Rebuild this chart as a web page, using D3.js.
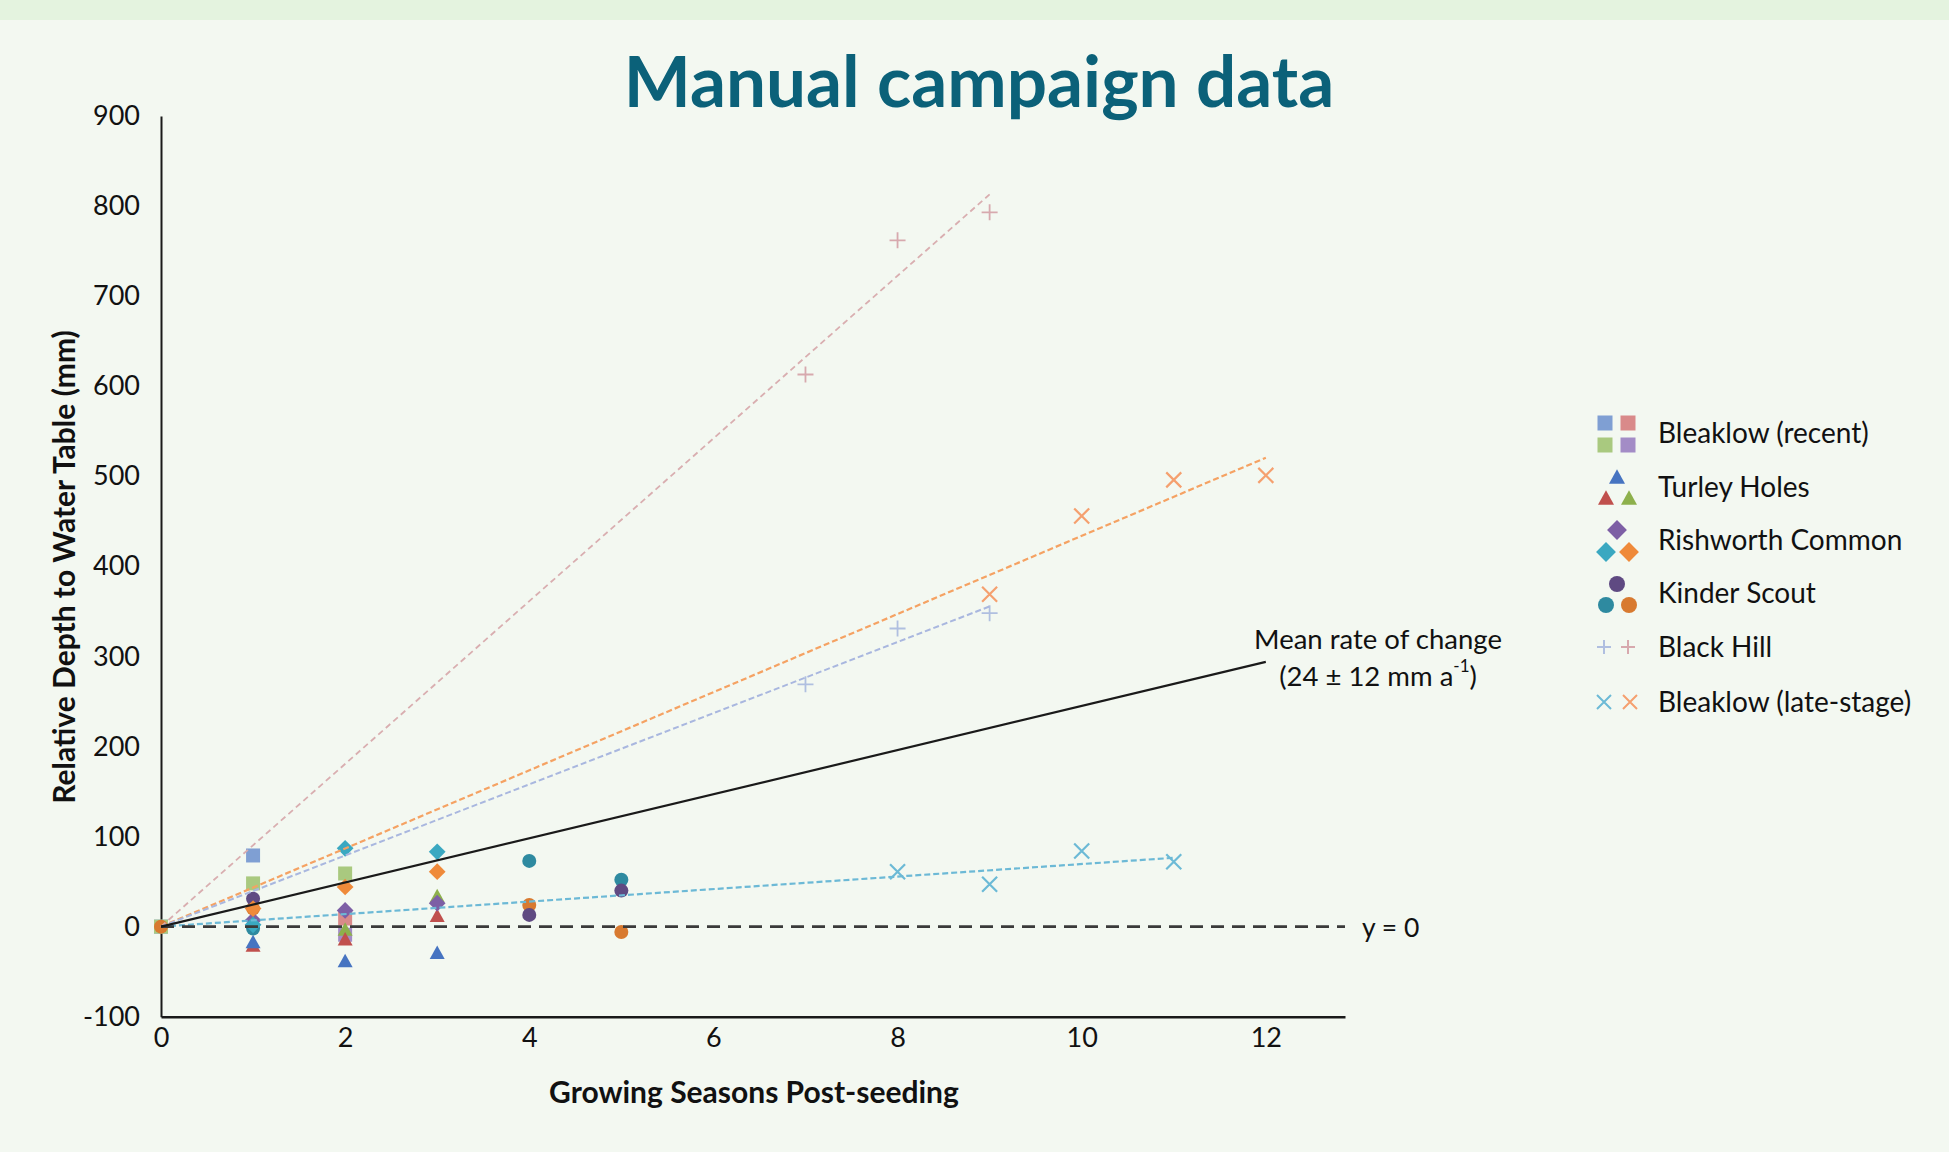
<!DOCTYPE html>
<html>
<head>
<meta charset="utf-8">
<script src="https://cdn.jsdelivr.net/npm/d3@7"></script>
<style>
  html, body { margin: 0; padding: 0; background: #f3f8f1; }
  svg { display: block; }
  text { font-family: Lato, "Open Sans", sans-serif; fill: #111; }
</style>
</head>
<body>
<svg id="chart" width="1949" height="1152"></svg>
<script>
// ---------------- DATA ----------------
const xTicks = [0, 2, 4, 6, 8, 10, 12];
const yTicks = [-100, 0, 100, 200, 300, 400, 500, 600, 700, 800, 900];

// Bleaklow (recent) – squares
const blRecentBlue   = [[0, 0], [1, 79]];
const blRecentPink   = [[2, 9]];
const blRecentGreen  = [[0, 0], [1, 48], [2, 59]];
const blRecentPurple = [[2, -9]];

// Turley Holes – triangles
const turleyBlue  = [[1, -18], [2, -39], [3, -30]];
const turleyRed   = [[1, -22], [2, -15], [3, 11]];
const turleyGreen = [[2, -4], [3, 33]];

// Rishworth Common – diamonds
const rishPurple = [[1, 7], [2, 18], [3, 26]];
const rishTeal   = [[1, 2], [2, 87], [3, 83]];
const rishOrange = [[1, 20], [2, 44], [3, 61]];

// Kinder Scout – circles
const kinderPurple = [[1, 31], [4, 13], [5, 40]];
const kinderTeal   = [[1, -2], [4, 73], [5, 52]];
const kinderOrange = [[0, 0], [1, 20], [4, 24], [5, -6]];

// Black Hill – plus
const blackHillBlue = [[7, 269], [8, 331], [9, 348]];
const blackHillPink = [[7, 613], [8, 762], [9, 793]];

// Bleaklow (late-stage) – crosses
const blLateBlue   = [[8, 61], [9, 47], [10, 84], [11, 72]];
const blLateOrange = [[9, 369], [10, 456], [11, 496], [12, 501]];

const meanRate = 24.5;       // mm per season (mean line)
const meanRateEnd = 12;
const zeroLineEnd = 12.86;

// ---------------- SETUP ----------------
const svg = d3.select("#chart");
const x = d3.scaleLinear().domain([0, 12.86]).range([161, 1345]);
const y = d3.scaleLinear().domain([-100, 900]).range([1016.7, 116]);

// background + top band
svg.append("rect").attr("x", 0).attr("y", 0).attr("width", 1949).attr("height", 1152).attr("fill", "#f3f8f1");
svg.append("rect").attr("x", 0).attr("y", 0).attr("width", 1949).attr("height", 20).attr("fill", "#e4f3df");

// title
svg.append("text").attr("x", 979).attr("y", 107).attr("text-anchor", "middle")
  .style("font-weight", "700").style("font-size", "71px").style("fill", "#0b6179")
  .text("Manual campaign data");

// ---------------- SYMBOLS ----------------
const shapePath = {
  square: s => `M${-s/2},${-s/2}h${s}v${s}h${-s}Z`,
  triangle: s => { const h = s * 0.9; return `M0,${-h*0.6}L${s/2},${h*0.4}L${-s/2},${h*0.4}Z`; },
  diamond: s => { const r = s * 0.62; return `M0,${-r}L${r},0L0,${r}L${-r},0Z`; },
  circle: s => { const r = s/2; return `M${r},0A${r},${r} 0 1,1 ${-r},0A${r},${r} 0 1,1 ${r},0Z`; },
  plus: s => `M${-s/2},0H${s/2}M0,${-s/2}V${s/2}`,
  cross: s => `M${-s/2},${-s/2}L${s/2},${s/2}M${-s/2},${s/2}L${s/2},${-s/2}`
};
const strokeShapes = new Set(["plus", "cross"]);

const seriesTable = [
  { data: blRecentBlue,   shape: "square",   color: "#7f9fd3", size: 14 },
  { data: blRecentPink,   shape: "square",   color: "#d98a8a", size: 14 },
  { data: blRecentGreen,  shape: "square",   color: "#a9c97f", size: 14 },
  { data: blRecentPurple, shape: "square",   color: "#a38cc6", size: 14 },
  { data: turleyGreen,    shape: "triangle", color: "#8db04c", size: 15 },
  { data: turleyRed,      shape: "triangle", color: "#c0504d", size: 15 },
  { data: turleyBlue,     shape: "triangle", color: "#4674c1", size: 15 },
  { data: kinderOrange,   shape: "circle",   color: "#d87a30", size: 14 },
  { data: kinderTeal,     shape: "circle",   color: "#2e8aa0", size: 14 },
  { data: kinderPurple,   shape: "circle",   color: "#5f4a82", size: 14 },
  { data: rishPurple,     shape: "diamond",  color: "#7d5fa5", size: 13.5 },
  { data: rishOrange,     shape: "diamond",  color: "#ef8a3a", size: 13.5 },
  { data: rishTeal,       shape: "diamond",  color: "#3aa8c1", size: 13.5 },
  { data: blackHillBlue,  shape: "plus",     color: "#b0bfe0", size: 16 },
  { data: blackHillPink,  shape: "plus",     color: "#d7a9ae", size: 16 },
  { data: blLateBlue,     shape: "cross",    color: "#6cbad6", size: 15 },
  { data: blLateOrange,   shape: "cross",    color: "#f5a06f", size: 15 }
];

// trend lines (least squares through origin from the series data)
const trendTable = [
  { data: blackHillPink, color: "#d9aeb0", width: 1.8, dash: "6,4" },
  { data: blLateOrange,  color: "#f5a263", width: 2.2, dash: "6,3" },
  { data: blackHillBlue, color: "#a9b7df", width: 2.0, dash: "6,3" },
  { data: blLateBlue,    color: "#6cb9d6", width: 2.2, dash: "6,3" }
];

// ---------------- AXES ----------------
const yAxis = svg.append("g").attr("transform", `translate(${x(0)},0)`)
  .call(d3.axisLeft(y).tickValues(yTicks).tickSize(0).tickPadding(21).tickFormat(d => String(d)));
yAxis.select(".domain").attr("stroke", "#1a1a1a").attr("stroke-width", 2);
yAxis.selectAll("text").style("font-size", "27px").style("font-family", "Lato").attr("fill", "#111");

const xAxis = svg.append("g").attr("transform", `translate(0,${y(-100)})`)
  .call(d3.axisBottom(x).tickValues(xTicks).tickSize(0).tickSizeOuter(0).tickPadding(11).tickFormat(d => String(d)));
xAxis.select(".domain").attr("stroke", "#1a1a1a").attr("stroke-width", 2.5);
xAxis.selectAll("text").style("font-size", "27px").style("font-family", "Lato").attr("fill", "#111");

// axis titles
svg.append("text").attr("transform", "translate(63,567) rotate(-90)")
  .attr("text-anchor", "middle").attr("dominant-baseline", "central")
  .style("font-weight", "700").style("font-size", "30px")
  .text("Relative Depth to Water Table (mm)");
svg.append("text").attr("x", 754).attr("y", 1091)
  .attr("text-anchor", "middle").attr("dominant-baseline", "central")
  .style("font-weight", "700").style("font-size", "30px")
  .text("Growing Seasons Post-seeding");

// ---------------- MARKERS ----------------
const markG = svg.append("g");
seriesTable.forEach(s => {
  markG.selectAll(null).data(s.data).enter().append("path")
    .attr("transform", d => `translate(${x(d[0])},${y(d[1])})`)
    .attr("d", shapePath[s.shape](s.size))
    .attr("fill", strokeShapes.has(s.shape) ? "none" : s.color)
    .attr("stroke", strokeShapes.has(s.shape) ? s.color : "none")
    .attr("stroke-width", s.shape === "cross" ? 2.2 : 1.8);
});

// ---------------- LINES ----------------
trendTable.forEach(t => {
  const sxy = d3.sum(t.data, d => d[0] * d[1]);
  const sxx = d3.sum(t.data, d => d[0] * d[0]);
  const slope = sxy / sxx;
  const xEnd = d3.max(t.data, d => d[0]);
  svg.append("line")
    .attr("x1", x(0)).attr("y1", y(0)).attr("x2", x(xEnd)).attr("y2", y(slope * xEnd))
    .attr("stroke", t.color).attr("stroke-width", t.width).attr("stroke-dasharray", t.dash);
});

// zero line
svg.append("line").attr("x1", x(0)).attr("y1", y(0)).attr("x2", x(zeroLineEnd)).attr("y2", y(0))
  .attr("stroke", "#3a3a3a").attr("stroke-width", 2.6).attr("stroke-dasharray", "13,8");
svg.append("text").attr("x", 1362).attr("y", y(0)).attr("dominant-baseline", "central")
  .style("font-size", "26.5px").text("y = 0");

// mean line
svg.append("line").attr("x1", x(0)).attr("y1", y(0)).attr("x2", x(meanRateEnd)).attr("y2", y(meanRate * meanRateEnd))
  .attr("stroke", "#1a1a1a").attr("stroke-width", 2.2);
svg.append("text").attr("x", 1378).attr("y", 638).attr("text-anchor", "middle").attr("dominant-baseline", "central")
  .style("font-size", "27.5px").text("Mean rate of change");
const t2 = svg.append("text").attr("x", 1378).attr("y", 675).attr("text-anchor", "middle").attr("dominant-baseline", "central")
  .style("font-size", "27.5px");
t2.append("tspan").text("(24 ± 12 mm a");
t2.append("tspan").attr("dy", -10).style("font-size", "17px").text("-1");
t2.append("tspan").attr("dy", 10).text(")");

// ---------------- LEGEND ----------------
const legendLabels = ["Bleaklow (recent)", "Turley Holes", "Rishworth Common", "Kinder Scout", "Black Hill", "Bleaklow (late-stage)"];
const legendTextY = [432, 486, 539, 592, 646, 701];
const legendIcons = [
  [["square", "#7f9fd3", 1605, 423], ["square", "#d98a8a", 1628, 423], ["square", "#a9c97f", 1605, 445], ["square", "#a38cc6", 1628, 445]],
  [["triangle", "#4674c1", 1617, 478], ["triangle", "#c0504d", 1606, 499], ["triangle", "#8db04c", 1629, 499]],
  [["diamond", "#7d5fa5", 1617, 530], ["diamond", "#3aa8c1", 1606, 552], ["diamond", "#ef8a3a", 1629, 552]],
  [["circle", "#5f4a82", 1617, 584], ["circle", "#2e8aa0", 1606, 605], ["circle", "#d87a30", 1629, 605]],
  [["plus", "#b0bfe0", 1604, 647], ["plus", "#d7a9ae", 1628, 647]],
  [["cross", "#6cbad6", 1604, 702], ["cross", "#f5a06f", 1630, 702]]
];
const lg = svg.append("g");
legendLabels.forEach((lab, i) => {
  lg.append("text").attr("x", 1658).attr("y", legendTextY[i]).attr("dominant-baseline", "central")
    .style("font-size", "28px").text(lab);
  legendIcons[i].forEach(ic => {
    const sz = ic[0] === "square" ? 15 : (ic[0] === "plus" || ic[0] === "cross") ? 14 : 16;
    lg.append("path").attr("transform", `translate(${ic[2]},${ic[3]})`)
      .attr("d", shapePath[ic[0]](sz))
      .attr("fill", strokeShapes.has(ic[0]) ? "none" : ic[1])
      .attr("stroke", strokeShapes.has(ic[0]) ? ic[1] : "none")
      .attr("stroke-width", 2);
  });
});
</script>
</body>
</html>
